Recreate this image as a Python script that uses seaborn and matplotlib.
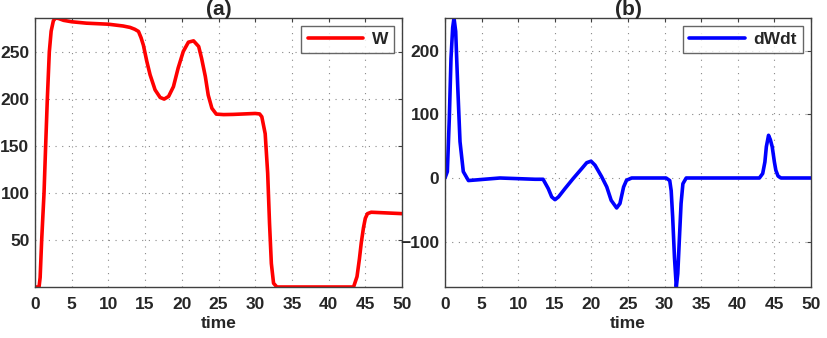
import numpy as np
import pandas as pd
import matplotlib
matplotlib.use("Agg")
import matplotlib.pyplot as plt
import seaborn as sns

# ---- data ----
t_W = [0, 0.55, 0.7, 0.91, 1.23, 1.45, 1.68, 1.95, 2.2, 2.5, 2.8, 3.2, 3.9, 5, 7, 10, 12,
       12.95, 13.6, 14.1, 14.45, 14.77, 15.23, 15.68, 16.36, 17.05, 17.6, 18.2, 18.86,
       19.5, 20.2, 20.9, 21.6, 22.3, 22.7, 23.2, 23.6, 24.1, 24.7, 25.7, 27, 30, 30.6,
       30.9, 31.36, 31.7, 31.95, 32.2, 32.5, 32.95, 35, 43.4, 43.87, 44.2, 44.45, 44.75,
       45.0, 45.3, 45.8, 50]
W = [0, 0, 10, 50, 100, 150, 200, 250, 272, 283, 286, 285.5, 283.5, 282, 280.5, 279.4, 277.5,
     276, 274, 271.7, 265, 257, 240, 225.6, 209.6, 201.5, 199.8, 202.6, 213,
     232.7, 250.4, 260.3, 261.7, 255.7, 243, 224, 204, 190, 183.8, 183.3, 183.5, 184.5, 184,
     181, 163, 121, 68, 25, 4, 0, 0, 0, 11, 30, 47, 63,
     73, 78, 79.5, 78]

t_D = [0, 0.32, 0.59, 0.82, 1.05, 1.23, 1.46, 1.73, 2.05, 2.5, 3.2, 4.3, 7.5, 12.3, 13.4,
       14.1, 14.58, 15.03, 15.5, 16.4, 17.5, 18.7, 19.36, 19.95, 20.5, 21.4, 22.1, 22.7,
       23.45, 23.9, 24.4, 24.8, 25.5, 30.2, 30.7, 30.9, 31.1, 31.35, 31.6, 31.8, 32.05,
       32.25, 32.5, 32.95, 42.95, 43.4, 43.7, 43.9, 44.2, 44.45, 44.7, 45.0, 45.2, 45.5,
       45.9, 50]
dWdt = [0, 10, 94, 188, 236, 251, 230, 146, 57, 10, -4, -3, 0, -2, -2,
        -16.5, -29.7, -34, -29.7, -16.5, -1, 15, 24, 26.4, 20, 2, -14, -35,
        -47, -40, -14, -3.5, 0, 0, -4, -20, -61, -125, -171, -150, -88,
        -40, -9, 0, 0, 7, 25, 49, 67, 60, 49, 25, 12, 3,
        0, 0]

x_ticks = [0, 5, 10, 15, 20, 25, 30, 35, 40, 45, 50]
yticks_a = [50, 100, 150, 200, 250]
yticks_b = [-100, 0, 100, 200]

dfW = pd.DataFrame({"time": t_W, "W": W})
dfD = pd.DataFrame({"time": t_D, "dWdt": dWdt})

sns.set_theme(style="white")
plt.rcParams["font.family"] = ["Liberation Sans", "DejaVu Sans"]
plt.rcParams["font.weight"] = "bold"

fig = plt.figure(figsize=(8.28, 3.38), dpi=100)
axA = fig.add_axes([35/828, 51/338, 367/828, 269/338])
axB = fig.add_axes([445/828, 51/338, 366/828, 269/338])

spine_c = "#404040"

def style(ax, yticks, ylim, title):
    ax.set_xlim(0, 50)
    ax.set_ylim(*ylim)
    ax.set_xticks(x_ticks)
    ax.set_yticks(yticks)
    ax.grid(True, linestyle=(0, (1, 5)), color="#888888", linewidth=0.8)
    for s in ax.spines.values():
        s.set_color(spine_c)
        s.set_linewidth(1.0)
        s.set_visible(True)
    ax.tick_params(direction="in", length=3, width=0.8, color=spine_c,
                   top=True, right=True, labelsize=12.5)
    ax.tick_params(axis="x", pad=7)
    ax.tick_params(axis="y", pad=4)
    for lab in ax.get_xticklabels() + ax.get_yticklabels():
        lab.set_fontweight("bold")
    ax.set_xlabel("time", fontsize=12.5, fontweight="bold", labelpad=3)
    ax.set_ylabel("")
    ax.set_title(title, fontsize=15, fontweight="bold", pad=2)
    leg = ax.legend(loc="upper right", fontsize=12.5, frameon=True, fancybox=False,
                    handlelength=3.2, borderpad=0.35, handletextpad=0.5,
                    borderaxespad=0.45)
    leg.get_frame().set_edgecolor(spine_c)
    leg.get_frame().set_linewidth(1.0)
    for txt in leg.get_texts():
        txt.set_fontweight("bold")

sns.lineplot(data=dfW, x="time", y="W", ax=axA, color="#ff0000", linewidth=2.6, label="W")
style(axA, yticks_a, (0, 286), "(a)")

sns.lineplot(data=dfD, x="time", y="dWdt", ax=axB, color="#0000ff", linewidth=2.6, label="dWdt")
style(axB, yticks_b, (-171, 251), "(b)")

fig.savefig("out.png", dpi=100)
